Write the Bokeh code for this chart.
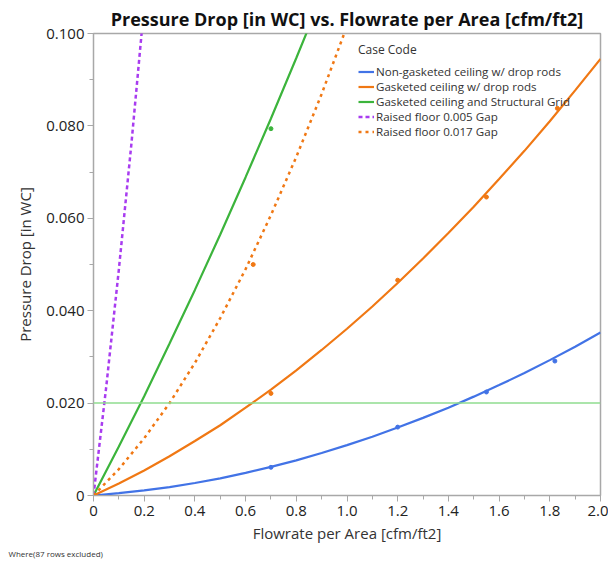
from bokeh.plotting import figure
from bokeh.models import Legend, LegendItem, Span, FixedTicker, Title
from bokeh.embed import file_html
from bokeh.resources import INLINE

# Fitted curves
blue_x = [0, 0.1, 0.2, 0.3, 0.4, 0.5, 0.6, 0.7, 0.8, 0.9, 1.0, 1.1, 1.2, 1.3, 1.4, 1.5, 1.6, 1.7, 1.8, 1.9, 2.0]
blue_y = [0, 0.0005, 0.0011, 0.0018, 0.0027, 0.0037, 0.0049, 0.0062, 0.0076, 0.0092, 0.0109,
          0.0127, 0.0147, 0.0168, 0.0190, 0.0214, 0.0239, 0.0265, 0.0293, 0.0322, 0.0353]
orange_x = [0, 0.1, 0.2, 0.3, 0.4, 0.5, 0.6, 0.7, 0.8, 0.9, 1.0, 1.1, 1.2, 1.3, 1.4, 1.5, 1.6, 1.7, 1.8, 1.9, 2.0]
orange_y = [0, 0.0026, 0.0054, 0.0085, 0.0118, 0.0152, 0.0190, 0.0229, 0.0271, 0.0315, 0.0361,
            0.0409, 0.0460, 0.0513, 0.0568, 0.0625, 0.0685, 0.0746, 0.0810, 0.0877, 0.0945]
green_x = [0, 0.1, 0.2, 0.3, 0.4, 0.5, 0.6, 0.7, 0.8, 0.9]
green_y = [0, 0.0106, 0.0215, 0.0329, 0.0445, 0.0565, 0.0689, 0.0816, 0.0947, 0.1081]
purple_x = [0, 0.05, 0.1, 0.15, 0.2]
purple_y = [0, 0.0234, 0.0489, 0.0764, 0.1061]
orgdot_x = [0, 0.1, 0.2, 0.3, 0.4, 0.5, 0.6, 0.7, 0.8, 0.9, 1.0]
orgdot_y = [0, 0.0057, 0.0124, 0.0200, 0.0287, 0.0384, 0.0490, 0.0607, 0.0733, 0.0869, 0.1016]

# Observed data points
blue_px = [0.70, 1.20, 1.55, 1.82]
blue_py = [0.0061, 0.0148, 0.0224, 0.0291]
orange_px = [0.70, 1.20, 1.55, 1.83]
orange_py = [0.0221, 0.0466, 0.0646, 0.0838]
green_px = [0.70]
green_py = [0.0794]
orgdot_px = [0.63]
orgdot_py = [0.0500]

ref_level = 0.02

x_ticks = [0, 0.2, 0.4, 0.6, 0.8, 1.0, 1.2, 1.4, 1.6, 1.8, 2.0]
x_labels = ["0", "0.2", "0.4", "0.6", "0.8", "1.0", "1.2", "1.4", "1.6", "1.8", "2.0"]
y_ticks = [0, 0.02, 0.04, 0.06, 0.08, 0.1]
y_labels = ["0", "0.020", "0.040", "0.060", "0.080", "0.100"]

series_names = ["Non-gasketed ceiling w/ drop rods", "Gasketed ceiling w/ drop rods",
                "Gasketed ceiling and Structural Grid", "Raised floor 0.005 Gap",
                "Raised floor 0.017 Gap"]

BLUE = "#4273e6"
ORANGE = "#f07814"
GREEN = "#3cb43c"
PURPLE = "#a83cf0"
FONT = "Open Sans"

p = figure(frame_width=507, frame_height=462, x_range=(0, 2.0), y_range=(0, 0.1),
           output_backend="svg", toolbar_location=None,
           min_border_left=93, min_border_right=8, min_border_top=33, min_border_bottom=66)

p.title.text = "Pressure Drop [in WC] vs. Flowrate per Area [cfm/ft2]"
p.title.text_font = FONT
p.title.text_font_size = "18px"
p.title.text_font_style = "bold"
p.title.align = "center"
p.title.text_color = "#111111"
p.title.standoff = 6

p.background_fill_color = "white"
p.border_fill_color = "white"
p.outline_line_color = "#a8a8a8"
p.outline_line_width = 1.5
p.xgrid.visible = False
p.ygrid.visible = False

for ax in (p.xaxis[0], p.yaxis[0]):
    ax.axis_line_color = "#a8a8a8"
    ax.major_tick_line_color = "#a8a8a8"
    ax.minor_tick_line_color = "#a8a8a8"
    ax.major_tick_out = 6
    ax.major_tick_in = 0
    ax.minor_tick_out = 4
    ax.minor_tick_in = 0
    ax.major_label_text_font = FONT
    ax.major_label_text_font_size = "15px"
    ax.major_label_text_color = "#222222"
    ax.axis_label_text_font = FONT
    ax.axis_label_text_font_size = "15px"
    ax.axis_label_text_font_style = "normal"
    ax.axis_label_text_color = "#333333"

p.xaxis.ticker = FixedTicker(ticks=x_ticks, minor_ticks=[i * 0.1 for i in range(21)])
p.yaxis.ticker = FixedTicker(ticks=y_ticks, minor_ticks=[i * 0.01 for i in range(11)])
p.xaxis.major_label_overrides = {t: l for t, l in zip(x_ticks, x_labels)}
p.yaxis.major_label_overrides = {t: l for t, l in zip(y_ticks, y_labels)}
p.xaxis.axis_label = "Flowrate per Area [cfm/ft2]"
p.yaxis.axis_label = "Pressure Drop [in WC]"
p.xaxis.major_label_standoff = 4
p.yaxis.major_label_standoff = 3
p.xaxis.axis_label_standoff = 4
p.yaxis.axis_label_standoff = 8

p.add_layout(Span(location=ref_level, dimension="width", line_color="#8fdc8f", line_width=1.5))

r1 = p.line(blue_x, blue_y, line_color=BLUE, line_width=2.2)
r2 = p.line(orange_x, orange_y, line_color=ORANGE, line_width=2.2)
r3 = p.line(green_x, green_y, line_color=GREEN, line_width=2.2)
r4 = p.line(purple_x, purple_y, line_color=PURPLE, line_width=2.5, line_dash="4 3")
r5 = p.line(orgdot_x, orgdot_y, line_color=ORANGE, line_width=2.5, line_dash="3 4")

p.scatter(blue_px, blue_py, size=4, color=BLUE)
p.scatter(orange_px, orange_py, size=4, color=ORANGE)
p.scatter(green_px, green_py, size=4, color=GREEN)
p.scatter(orgdot_px, orgdot_py, size=4, color=ORANGE)

legend = Legend(items=[LegendItem(label=n, renderers=[r]) for n, r in
                       zip(series_names, [r1, r2, r3, r4, r5])],
                location=(265, 356), title="Case Code")
legend.title_text_font = FONT
legend.title_text_font_size = "12px"
legend.title_text_font_style = "normal"
legend.title_text_color = "#333333"
legend.title_standoff = 6
legend.label_text_font = FONT
legend.label_text_font_size = "11.6px"
legend.label_text_color = "#333333"
legend.label_height = 11
legend.glyph_height = 11
legend.glyph_width = 16
legend.label_standoff = 2
legend.spacing = 0
legend.padding = 2
legend.margin = 0
legend.border_line_color = None
legend.background_fill_alpha = 0
p.add_layout(legend)

note = Title(text="Where(87 rows excluded)", align="left", text_font=FONT,
             text_font_size="8px", text_font_style="normal", text_color="#333333",
             offset=-85, standoff=0)
p.add_layout(note, "below")

open("out.html", "w").write(file_html(p, INLINE))
